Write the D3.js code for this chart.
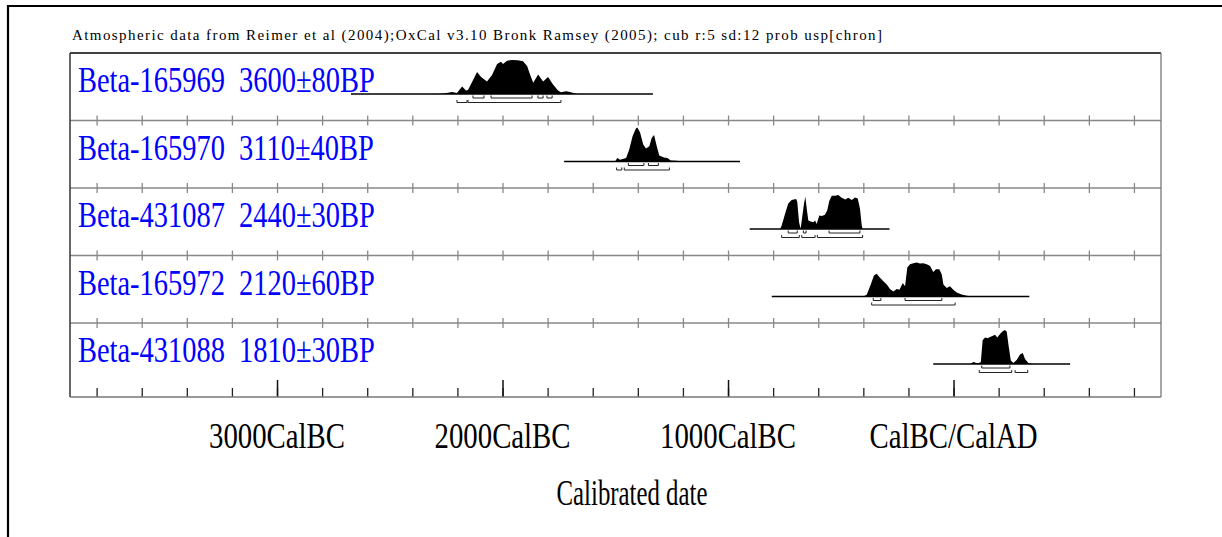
<!DOCTYPE html>
<html>
<head>
<meta charset="utf-8">
<script src="https://cdn.jsdelivr.net/npm/d3@7/dist/d3.min.js"></script>
<style>
  body { margin: 0; background: #fff; }
  text { font-family: "Liberation Serif", "Times New Roman", serif; }
</style>
</head>
<body>
<div id="chart"></div>
<script>
// ---- data (calendar years, BC negative) ----
var titleText = 'Atmospheric data from Reimer et al (2004);OxCal v3.10 Bronk Ramsey (2005); cub r:5 sd:12 prob usp[chron]';
var samples = ['Beta-165969', 'Beta-165970', 'Beta-431087', 'Beta-165972', 'Beta-431088'];
var bpDates = ['3600±80BP', '3110±40BP', '2440±30BP', '2120±60BP', '1810±30BP'];

// extent of the thin line drawn under each distribution
var lineRanges = [[-2672, -1333], [-1727, -947], [-904, -284], [-806, 336], [-90, 517]];

// probability curves [year, relative probability]
var density1 = [[-2286, 0], [-2255, 0.02], [-2224, 0.06], [-2202, 0.03], [-2188, 0.15], [-2179, 0.22], [-2162, 0.1],
  [-2153, 0.12], [-2135, 0.35], [-2113, 0.65], [-2095, 0.5], [-2069, 0.37], [-2047, 0.55], [-2024, 0.88],
  [-2007, 0.95], [-1998, 0.88], [-1980, 0.98], [-1958, 1.0], [-1932, 0.99], [-1909, 0.96], [-1891, 0.82],
  [-1878, 0.57], [-1864, 0.33], [-1842, 0.57], [-1820, 0.37], [-1798, 0.5], [-1776, 0.28], [-1754, 0.1],
  [-1741, 0.05], [-1718, 0.08], [-1701, 0.06], [-1670, 0]];
var density2 = [[-1501, 0], [-1491, 0.1], [-1479, 0.05], [-1452, 0.1], [-1438, 0.35], [-1423, 0.75], [-1408, 0.98],
  [-1402, 1.0], [-1390, 0.85], [-1376, 0.5], [-1364, 0.38], [-1349, 0.45], [-1338, 0.7], [-1328, 0.78],
  [-1316, 0.45], [-1305, 0.18], [-1284, 0.12], [-1269, 0.1], [-1254, 0.03], [-1227, 0.02], [-1213, 0]];
var density3 = [[-769, 0], [-762, 0.1], [-747, 0.45], [-733, 0.75], [-718, 0.85], [-698, 0.88], [-693, 0.8],
  [-685, 0.2], [-678, 0.01], [-672, 0.3], [-663, 0.75], [-657, 0.95], [-651, 0.6], [-644, 0.25], [-633, 0.22],
  [-622, 0.2], [-614, 0.25], [-607, 0.15], [-595, 0.4], [-584, 0.38], [-570, 0.42], [-560, 0.55], [-551, 0.82],
  [-540, 0.98], [-525, 0.98], [-511, 1.0], [-496, 0.92], [-480, 0.87], [-467, 0.92], [-451, 0.85], [-437, 0.93],
  [-425, 0.9], [-415, 0.6], [-407, 0.1], [-403, 0]];
var density4 = [[-400, 0], [-385, 0.05], [-367, 0.35], [-353, 0.62], [-341, 0.67], [-326, 0.55], [-311, 0.45],
  [-296, 0.35], [-282, 0.22], [-267, 0.15], [-252, 0.22], [-240, 0.2], [-225, 0.4], [-215, 0.3], [-205, 0.85],
  [-193, 0.95], [-178, 0.98], [-163, 1.0], [-149, 0.97], [-134, 0.98], [-119, 0.95], [-104, 0.9], [-90, 0.72],
  [-78, 0.8], [-63, 0.8], [-52, 0.65], [-45, 0.35], [-30, 0.25], [-16, 0.3], [-1, 0.2], [14, 0.12], [36, 0.06],
  [59, 0.02], [81, 0]];
var density5 = [[73, 0], [88, 0.06], [106, 0.02], [121, 0.05], [129, 0.7], [140, 0.78], [150, 0.76], [165, 0.8],
  [184, 0.86], [194, 0.78], [206, 0.88], [218, 0.96], [228, 1.0], [236, 0.95], [245, 0.5], [254, 0.1],
  [265, 0.03], [280, 0.12], [295, 0.28], [307, 0.32], [317, 0.15], [332, 0.03], [347, 0.01], [369, 0]];
var densities = [density1, density2, density3, density4, density5];

// 68.2% and 95.4% ranges
var oneSigma = [
  [[-2131, -2082], [-2051, -1869], [-1843, -1820], [-1803, -1780]],
  [[-1442, -1373], [-1353, -1309]],
  [[-733, -693], [-666, -654], [-552, -415]],
  [[-356, -322], [-215, -52]],
  [[125, 250]]
];
var twoSigma = [
  [[-2202, -2157], [-2153, -1741]],
  [[-1494, -1471], [-1460, -1260]],
  [[-762, -684], [-673, -614], [-604, -403]],
  [[-363, 7]],
  [[114, 258], [273, 329]]
];

// axis
var minorTicks = [-3800, -3600, -3400, -3200, -3000, -2800, -2600, -2400, -2200, -2000, -1800, -1600, -1400,
  -1200, -1000, -800, -600, -400, -200, 0, 200, 400, 600, 800];
var majorTicks = [-3000, -2000, -1000, 0];
var majorLabels = ['3000CalBC', '2000CalBC', '1000CalBC', 'CalBC/CalAD'];
var axisTitle = 'Calibrated date';

// ---- layout ----
const WIDTH = 1222;
const HEIGHT = 537;
const PLOT_LEFT = 70;
const PLOT_RIGHT = 1161;
const PLOT_TOP = 53;
const ROW_H = 67.5;
const AXIS_Y = 397;
const PEAK_H = 34;
const BIG_FONT = 36;

var svg = d3.select('#chart').append('svg')
            .attr('width', WIDTH)
            .attr('height', HEIGHT);

var x = d3.scaleLinear()
          .domain([-3918, 920])
          .range([PLOT_LEFT, PLOT_RIGHT]);

var yDens = d3.scaleLinear()
              .domain([0, 1])
              .range([0, -PEAK_H]);

// outer frame (only its top and left edges are on the page)
svg.append('path')
   .attr('d', 'M8,' + HEIGHT + 'V6H' + WIDTH)
   .attr('fill', 'none')
   .attr('stroke', '#000')
   .attr('stroke-width', 2.2);

// header line
svg.append('text')
   .attr('x', 72)
   .attr('y', 40)
   .attr('font-size', 15)
   .attr('fill', '#000')
   .attr('textLength', 810)
   .attr('lengthAdjust', 'spacing')
   .text(titleText);

// separators between rows, ticks crossing both sides
for (var i = 1; i < samples.length; i++) {
  var sepY = PLOT_TOP + i * ROW_H;
  [d3.axisTop(x), d3.axisBottom(x)].forEach(function (ax) {
    svg.append('g')
       .attr('class', 'sep')
       .attr('transform', 'translate(0,' + sepY + ')')
       .call(ax.tickValues(minorTicks).tickSize(5).tickFormat(''));
  });
  svg.append('line')
     .attr('x1', PLOT_LEFT).attr('x2', PLOT_RIGHT)
     .attr('y1', sepY).attr('y2', sepY)
     .attr('stroke', '#888')
     .attr('stroke-width', 1.3);
}
svg.selectAll('g.sep path.domain').remove();
svg.selectAll('g.sep line').attr('stroke', '#888').attr('stroke-width', 1.3);

// bottom axis: minor and major ticks pointing up
var minorAxis = svg.append('g')
                   .attr('transform', 'translate(0,' + AXIS_Y + ')')
                   .call(d3.axisTop(x).tickValues(minorTicks).tickSize(9).tickFormat(''));
var majorAxis = svg.append('g')
                   .attr('transform', 'translate(0,' + AXIS_Y + ')')
                   .call(d3.axisTop(x).tickValues(majorTicks).tickSize(17).tickFormat(''));
minorAxis.select('path.domain').remove();
majorAxis.select('path.domain').remove();
minorAxis.selectAll('line').attr('stroke', '#222').attr('stroke-width', 1.3);
majorAxis.selectAll('line').attr('stroke', '#111').attr('stroke-width', 1.5);

// plot frame
svg.append('line').attr('x1', PLOT_LEFT).attr('x2', PLOT_RIGHT).attr('y1', PLOT_TOP).attr('y2', PLOT_TOP)
   .attr('stroke', '#000').attr('stroke-width', 1.5);
svg.append('line').attr('x1', PLOT_LEFT).attr('x2', PLOT_LEFT).attr('y1', PLOT_TOP).attr('y2', AXIS_Y)
   .attr('stroke', '#333').attr('stroke-width', 1.5);
svg.append('line').attr('x1', PLOT_RIGHT).attr('x2', PLOT_RIGHT).attr('y1', PLOT_TOP).attr('y2', AXIS_Y)
   .attr('stroke', '#777').attr('stroke-width', 1.3);
svg.append('line').attr('x1', PLOT_LEFT).attr('x2', PLOT_RIGHT).attr('y1', AXIS_Y).attr('y2', AXIS_Y)
   .attr('stroke', '#777').attr('stroke-width', 1.5);

// rows
var area = d3.area()
             .x(d => x(d[0]))
             .y0(yDens(0))
             .y1(d => yDens(d[1]));

var rows = svg.selectAll('g.row').data(samples)
              .enter()
              .append('g')
              .classed('row', true)
              .attr('transform', (d, i) => 'translate(0,' + (PLOT_TOP + i * ROW_H + 41) + ')');

rows.append('text')
    .attr('transform', 'translate(78,-2) scale(0.79,1)')
    .attr('font-size', BIG_FONT)
    .attr('fill', '#0000ff')
    .attr('xml:space', 'preserve')
    .text((d, i) => d + '  ' + bpDates[i]);

rows.append('line')
    .attr('x1', (d, i) => x(lineRanges[i][0]))
    .attr('x2', (d, i) => x(lineRanges[i][1]))
    .attr('stroke', '#000')
    .attr('stroke-width', 1.5);

rows.append('path')
    .attr('d', (d, i) => area(densities[i]))
    .attr('fill', '#000');

// range brackets: a short upturn at each end
function bracket(r, dy) {
  return 'M' + x(r[0]) + ',' + (dy - 2.5) + 'V' + dy + 'H' + x(r[1]) + 'V' + (dy - 2.5);
}

rows.each(function (d, i) {
  var row = d3.select(this);
  row.selectAll('path.one').data(oneSigma[i])
     .enter()
     .append('path')
     .classed('one', true)
     .attr('d', r => bracket(r, 4))
     .attr('fill', 'none')
     .attr('stroke', '#222')
     .attr('stroke-width', 1);
  row.selectAll('path.two').data(twoSigma[i])
     .enter()
     .append('path')
     .classed('two', true)
     .attr('d', r => bracket(r, 8.5))
     .attr('fill', 'none')
     .attr('stroke', '#222')
     .attr('stroke-width', 1);
});

// date labels under the major ticks
svg.selectAll('text.major').data(majorTicks)
   .enter()
   .append('text')
   .classed('major', true)
   .attr('transform', d => 'translate(' + x(d) + ',448) scale(0.8,1)')
   .attr('text-anchor', 'middle')
   .attr('font-size', BIG_FONT)
   .text((d, i) => majorLabels[i]);

svg.append('text')
   .attr('transform', 'translate(632,505) scale(0.69,1)')
   .attr('text-anchor', 'middle')
   .attr('font-size', BIG_FONT)
   .text(axisTitle);
</script>
</body>
</html>
